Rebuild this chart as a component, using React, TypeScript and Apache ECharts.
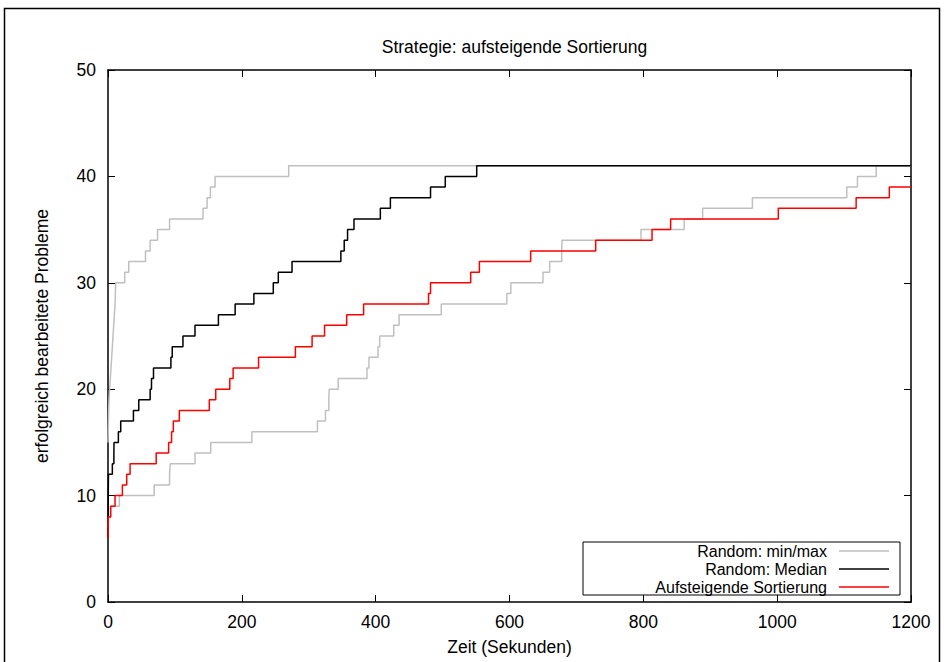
import React, { useEffect, useRef } from "react";
import * as echarts from "echarts";

const titleText = "Strategie: aufsteigende Sortierung";
const xAxisName = "Zeit (Sekunden)";
const yAxisName = "erfolgreich bearbeitete Probleme";
const legendNames = ["Random: min/max", "Random: Median", "Aufsteigende Sortierung"];

// Random: max (upper grey curve)
const maxTimes = [0, 0.3, 0.7, 1, 1.5, 2.5, 3.5, 4.5, 5.5, 6.5, 7.5, 8.5, 9.5, 10.5, 11, 11.5, 25, 31, 56, 63, 74, 92, 142, 148, 153, 160, 270, 1200];
const maxValues = [15, 16, 17, 18, 19, 20, 21, 22, 23, 24, 25, 26, 27, 28, 29, 30, 31, 32, 33, 34, 35, 36, 37, 38, 39, 40, 41, 41];

// Random: min (lower grey curve)
const minTimes = [0, 1, 4, 17, 69, 92, 93, 130, 153.5, 215, 313, 325, 330, 330.5, 344, 387, 390, 403.5, 406, 427, 435, 498, 596, 602, 650, 660, 678, 678.5, 796.5, 861, 888.6, 963, 1104, 1120, 1148, 1200];
const minValues = [7, 8, 9, 10, 11, 12, 13, 14, 15, 16, 17, 18, 19, 20, 21, 22, 23, 24, 25, 26, 27, 28, 29, 30, 31, 32, 33, 34, 35, 36, 37, 38, 39, 40, 41, 41];

// Random: Median
const medTimes = [0, 0.2, 0.4, 0.5, 0.7, 6.5, 8.8, 9, 15.5, 19, 38, 46, 63, 65, 68, 94, 96, 112, 130, 165, 190, 218, 247, 254.5, 275, 348, 353, 358, 367.6, 407, 422, 482, 504, 551, 1200];
const medValues = [6, 8, 10, 11, 12, 13, 14, 15, 16, 17, 18, 19, 20, 21, 22, 23, 24, 25, 26, 27, 28, 29, 30, 31, 32, 33, 34, 35, 36, 37, 38, 39, 40, 41, 41];

// Aufsteigende Sortierung
const sortTimes = [0, 0.2, 0.5, 4, 10.5, 21.5, 28, 33, 72, 90.6, 95, 97.6, 106.6, 151.4, 161, 182, 187, 225, 280, 305, 323.6, 356.7, 382, 479, 482, 542, 555, 631.6, 728.8, 813, 840.8, 1001.7, 1118, 1167.6, 1200];
const sortValues = [6, 7, 8, 9, 10, 11, 12, 13, 14, 15, 16, 17, 18, 19, 20, 21, 22, 23, 24, 25, 26, 27, 28, 29, 30, 31, 32, 33, 34, 35, 36, 37, 38, 39, 39];

const GREY = "#c0c0c0";
const BLACK = "#000000";
const RED = "#ff0000";
const FONT = "Liberation Sans";
const FS = 17.5;
const LEGEND_FS = 16;

const zip = (t: number[], v: number[]) => t.map((x, i) => [x, v[i]]);

export default function App() {
  const ref = useRef<HTMLDivElement>(null);
  useEffect(() => {
    if (!ref.current) return;
    const chart = echarts.init(ref.current, null, { renderer: "svg" });
    const axisCommon = {
      axisLine: { show: true, onZero: false, lineStyle: { color: "#000", width: 1.5 } },
      axisTick: { show: true, inside: true, length: 7, lineStyle: { color: "#000", width: 1 } },
      splitLine: { show: false },
    };
    const lineSeries = (name: string, data: number[][], color: string, z: number) => ({
      name,
      type: "line",
      step: "end",
      data,
      symbol: "none",
      showSymbol: false,
      z,
      lineStyle: { color, width: 1.5 },
      itemStyle: { color },
    });
    const lx = 827;
    const rows = [551, 569, 587];
    const colors = [GREY, BLACK, RED];
    const legendGraphics: any[] = [
      {
        type: "rect",
        z: 100,
        shape: { x: 583, y: 542, width: 317, height: 53 },
        style: { fill: "#fff", stroke: "#000", lineWidth: 1 },
      },
    ];
    legendNames.forEach((n, i) => {
      legendGraphics.push({
        type: "text",
        z: 101,
        x: lx,
        y: rows[i],
        style: { text: n, fill: "#000", font: `${LEGEND_FS}px ${FONT}`, align: "right", verticalAlign: "middle" },
      });
      legendGraphics.push({
        type: "line",
        z: 101,
        shape: { x1: 839, y1: rows[i], x2: 889, y2: rows[i] },
        style: { stroke: colors[i], lineWidth: 1.5 },
      });
    });
    const plain = (v: number) => String(v);
    chart.setOption({
      animation: false,
      backgroundColor: "#fff",
      textStyle: { fontFamily: FONT },
      title: {
        text: titleText,
        left: 509.5,
        textAlign: "center",
        top: 33,
        textStyle: { fontSize: FS, fontWeight: "normal", color: "#000", fontFamily: FONT },
      },
      grid: { left: 108, right: 37, top: 70, bottom: 60, containLabel: false },
      xAxis: [
        {
          type: "value",
          position: "bottom",
          min: 0,
          max: 1200,
          interval: 200,
          name: xAxisName,
          nameLocation: "middle",
          nameGap: 36,
          nameTextStyle: { fontSize: FS, color: "#000", fontFamily: FONT },
          axisLabel: { fontSize: FS, color: "#000", margin: 11, fontFamily: FONT, formatter: plain },
          ...axisCommon,
        },
        {
          type: "value",
          position: "top",
          min: 0,
          max: 1200,
          interval: 200,
          axisLabel: { show: false },
          ...axisCommon,
        },
      ],
      yAxis: [
        {
          type: "value",
          position: "left",
          min: 0,
          max: 50,
          interval: 10,
          name: yAxisName,
          nameLocation: "middle",
          nameGap: 57,
          nameTextStyle: { fontSize: FS, color: "#000", fontFamily: FONT },
          axisLabel: { fontSize: FS, color: "#000", margin: 12, fontFamily: FONT, formatter: plain },
          ...axisCommon,
        },
        {
          type: "value",
          position: "right",
          min: 0,
          max: 50,
          interval: 10,
          axisLabel: { show: false },
          ...axisCommon,
        },
      ],
      series: [
        lineSeries(legendNames[0], zip(maxTimes, maxValues), GREY, 2),
        lineSeries(legendNames[0] + " (min)", zip(minTimes, minValues), GREY, 2),
        lineSeries(legendNames[1], zip(medTimes, medValues), BLACK, 3),
        lineSeries(legendNames[2], zip(sortTimes, sortValues), RED, 4),
      ],
      graphic: [
        {
          type: "rect",
          z: 99,
          silent: true,
          shape: { x: 4.5, y: 8.5, width: 935, height: 700 },
          style: { fill: "none", stroke: "#000", lineWidth: 1.5 },
        },
        ...legendGraphics,
      ],
    });
    return () => chart.dispose();
  }, []);
  return (
    <div
      ref={ref}
      style={{ position: "fixed", left: 0, top: 0, width: 948, height: 662, background: "#fff" }}
    />
  );
}
